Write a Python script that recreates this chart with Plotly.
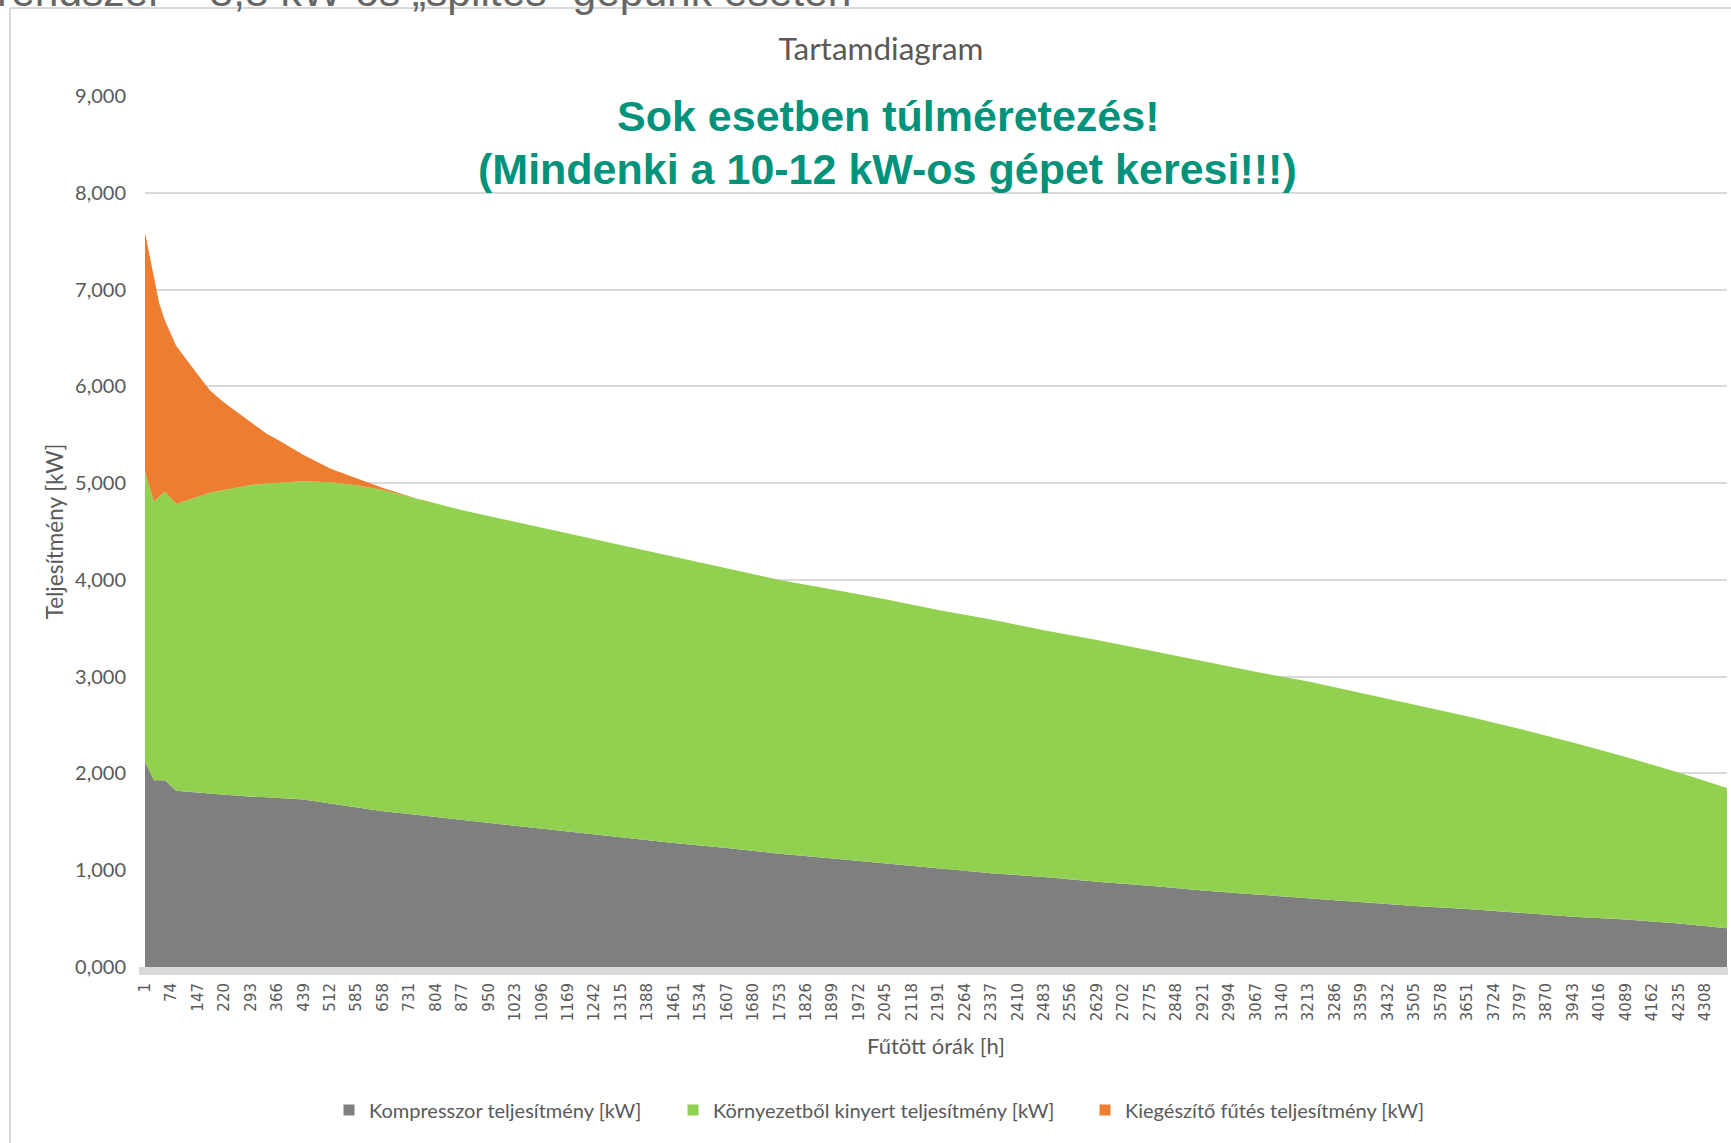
import plotly.graph_objects as go

# ---------------- data ----------------
hours = [1, 26, 40, 56, 87, 147, 180, 220, 263, 293, 337, 366, 439, 512, 585,
         658, 731, 768, 804, 877, 950, 1023, 1169, 1315, 1461, 1607, 1753, 1899,
         2045, 2191, 2337, 2483, 2629, 2775, 2921, 3067, 3213, 3359, 3505, 3651,
         3797, 3943, 4089, 4235, 4368]

kompresszor = [2.12, 1.93, 1.93, 1.93, 1.82, 1.80, 1.79, 1.78, 1.77, 1.76,
               1.755, 1.75, 1.73, 1.69, 1.65, 1.61, 1.58, 1.565, 1.55, 1.52,
               1.49, 1.46, 1.40, 1.34, 1.28, 1.23, 1.17, 1.12, 1.07, 1.02,
               0.97, 0.93, 0.88, 0.84, 0.79, 0.75, 0.71, 0.67, 0.63, 0.60,
               0.56, 0.52, 0.49, 0.45, 0.40]

kornyezet = [2.997, 2.877, 2.93, 2.98, 2.963, 3.06, 3.11, 3.15, 3.192, 3.22,
             3.24, 3.253, 3.29, 3.32, 3.329, 3.32, 3.28, 3.255, 3.24, 3.20,
             3.17, 3.14, 3.08, 3.02, 2.96, 2.89, 2.83, 2.78, 2.73, 2.67,
             2.62, 2.55, 2.50, 2.43, 2.37, 2.30, 2.24, 2.16, 2.08, 1.99,
             1.90, 1.80, 1.68, 1.56, 1.45]

kiegeszito = [2.473, 2.313, 2.00, 1.77, 1.637, 1.26, 1.06, 0.90, 0.748, 0.65,
              0.515, 0.447, 0.27, 0.14, 0.071, 0.02, 0.005, 0, 0, 0,
              0, 0, 0, 0, 0, 0, 0, 0, 0, 0,
              0, 0, 0, 0, 0, 0, 0, 0, 0, 0,
              0, 0, 0, 0, 0]

x_tick_labels = [1, 74, 147, 220, 293, 366, 439, 512, 585, 658, 731, 804, 877,
                 950, 1023, 1096, 1169, 1242, 1315, 1388, 1461, 1534, 1607,
                 1680, 1753, 1826, 1899, 1972, 2045, 2118, 2191, 2264, 2337,
                 2410, 2483, 2556, 2629, 2702, 2775, 2848, 2921, 2994, 3067,
                 3140, 3213, 3286, 3359, 3432, 3505, 3578, 3651, 3724, 3797,
                 3870, 3943, 4016, 4089, 4162, 4235, 4308]

series_names = ["Kompresszor teljesítmény [kW]",
                "Környezetből kinyert teljesítmény [kW]",
                "Kiegészítő fűtés teljesítmény [kW]"]
colors = ["#7f7f7f", "#92d050", "#ed7d31"]

# ---------------- layout geometry (pixels) ----------------
W, H = 1731, 1143
L, R, T, B = 145, 1727, 96, 967   # plot area edges


def px_x(px):
    return (px - L) / (R - L)


def px_y(py):
    return (B - py) / (B - T)


TXT = "#595959"
fig = go.Figure()

for name, vals, col in zip(series_names, [kompresszor, kornyezet, kiegeszito], colors):
    fig.add_trace(go.Scatter(
        x=hours, y=vals, name=name, mode="lines", stackgroup="one",
        line=dict(width=0, color=col), fillcolor=col, showlegend=False,
        hoverinfo="skip"))

legend_ids = ["legend", "legend2", "legend3"]
for name, col, lid in zip(series_names, colors, legend_ids):
    fig.add_trace(go.Scatter(
        x=[None], y=[None], mode="markers", name=name, legend=lid,
        marker=dict(symbol="square", size=11, color=col), showlegend=True))

legend_font = dict(family="Lato", size=20, color=TXT)
leg_y = px_y(1110)
legend_x_px = [329, 673, 1085]
legends = {}
for lid, lx in zip(legend_ids, legend_x_px):
    legends[lid] = dict(x=px_x(lx), y=leg_y, xanchor="left", yanchor="middle",
                        orientation="h", font=legend_font,
                        bgcolor="rgba(0,0,0,0)")

fig.update_layout(
    width=W, height=H,
    margin=dict(l=L, r=W - R, t=T, b=H - B, pad=0),
    paper_bgcolor="white", plot_bgcolor="white",
    separators=",.",
    title=dict(text="Tartamdiagram", x=881 / W, xref="container", xanchor="center",
               y=1 - 48.6 / H, yref="container", yanchor="middle",
               font=dict(family="Lato", size=31.5, color=TXT)),
    xaxis=dict(range=[1, 4368], tickmode="array", tickvals=x_tick_labels,
               ticktext=[str(v) for v in x_tick_labels], tickangle=-90,
               showgrid=False, zeroline=False, showline=False, ticks="",
               ticklabelstandoff=12, automargin=False,
               tickfont=dict(family="DejaVu Sans", size=15, color=TXT),
               title=dict(text="Fűtött órák [h]", standoff=18,
                          font=dict(family="Lato", size=22, color=TXT))),
    yaxis=dict(range=[0, 9], dtick=1, tickformat=".3f", showgrid=True,
               gridcolor="#d9d9d9", gridwidth=2, zeroline=False, showline=False,
               ticks="", ticklabelstandoff=18, automargin=False,
               tickfont=dict(family="Lato", size=20, color=TXT),
               title=dict(text="Teljesítmény [kW]", standoff=5,
                          font=dict(family="Lato", size=22.5, color=TXT))),
    **legends,
)

# axis band below zero, chart-area border
fig.add_shape(type="rect", xref="paper", yref="paper", x0=px_x(139), x1=px_x(1728),
              y0=px_y(975), y1=px_y(967), fillcolor="#d9d9d9", line=dict(width=0),
              layer="above")
fig.add_shape(type="line", xref="paper", yref="paper", x0=px_x(10), x1=px_x(10),
              y0=px_y(8), y1=px_y(1160), line=dict(color="#d9d9d9", width=2))
fig.add_shape(type="line", xref="paper", yref="paper", x0=px_x(10), x1=px_x(1760),
              y0=px_y(8), y1=px_y(8), line=dict(color="#d9d9d9", width=2))

# annotations
teal = "#00927a"
fig.add_annotation(text="<b>Sok esetben túlméretezés!</b>", xref="paper", yref="paper",
                   x=px_x(888), y=px_y(116), xanchor="center", yanchor="middle",
                   showarrow=False, font=dict(family="Liberation Sans", size=43, color=teal))
fig.add_annotation(text="<b>(Mindenki a 10-12 kW-os gépet keresi!!!)</b>", xref="paper",
                   yref="paper", x=px_x(887), y=px_y(169), xanchor="center",
                   yanchor="middle", showarrow=False,
                   font=dict(family="Liberation Sans", size=43, color=teal))
fig.add_annotation(text="rendszer – 8,8 kW-os „splites” gépünk esetén", xref="paper",
                   yref="paper", x=px_x(-5), y=px_y(17), xanchor="left",
                   yanchor="bottom", showarrow=False,
                   font=dict(family="Liberation Sans", size=42.5, color="#666666"))

fig.write_html("out.html",
               config={"displayModeBar": False},
               post_script="document.body.style.margin='0px';"
                           "document.body.style.overflow='hidden';")
